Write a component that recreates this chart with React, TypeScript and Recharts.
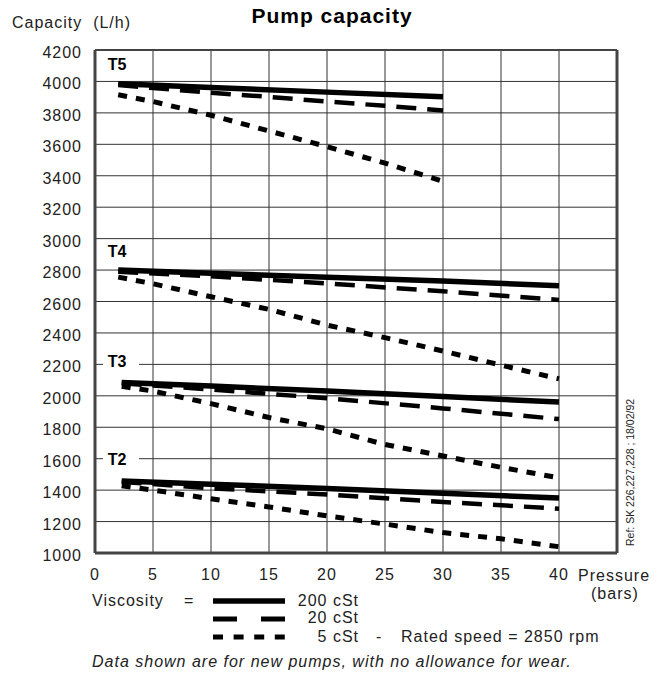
import React from "react";
import {
  LineChart,
  Line,
  XAxis,
  YAxis,
  CartesianGrid,
  ReferenceLine,
  ReferenceDot,
} from "recharts";

// pressure (bars) -> capacity (L/h)
const t5_200 = [
  { p: 2, v: 3985 },
  { p: 10, v: 3962 },
  { p: 20, v: 3932 },
  { p: 30, v: 3902 },
];
const t5_20 = [
  { p: 2, v: 3978 },
  { p: 5, v: 3958 },
  { p: 10, v: 3928 },
  { p: 15, v: 3902 },
  { p: 20, v: 3872 },
  { p: 25, v: 3845 },
  { p: 30, v: 3815 },
];
const t5_5 = [
  { p: 2, v: 3915 },
  { p: 5, v: 3872 },
  { p: 10, v: 3785 },
  { p: 15, v: 3685 },
  { p: 20, v: 3585 },
  { p: 25, v: 3480 },
  { p: 30, v: 3365 },
];

const t4_200 = [
  { p: 2, v: 2800 },
  { p: 10, v: 2780 },
  { p: 20, v: 2755 },
  { p: 30, v: 2730 },
  { p: 40, v: 2700 },
];
const t4_20 = [
  { p: 2, v: 2790 },
  { p: 10, v: 2760 },
  { p: 20, v: 2715 },
  { p: 30, v: 2665 },
  { p: 40, v: 2610 },
];
const t4_5 = [
  { p: 2, v: 2755 },
  { p: 5, v: 2713 },
  { p: 10, v: 2630 },
  { p: 15, v: 2550 },
  { p: 20, v: 2450 },
  { p: 25, v: 2370 },
  { p: 30, v: 2285 },
  { p: 35, v: 2195 },
  { p: 40, v: 2108 },
];

const t3_200 = [
  { p: 2.3, v: 2085 },
  { p: 10, v: 2062 },
  { p: 20, v: 2030 },
  { p: 30, v: 1995 },
  { p: 40, v: 1960 },
];
const t3_20 = [
  { p: 2.3, v: 2080 },
  { p: 10, v: 2040 },
  { p: 20, v: 1985 },
  { p: 30, v: 1920 },
  { p: 40, v: 1852 },
];
const t3_5 = [
  { p: 2.3, v: 2060 },
  { p: 5, v: 2030 },
  { p: 10, v: 1950 },
  { p: 15, v: 1862 },
  { p: 20, v: 1790 },
  { p: 25, v: 1690 },
  { p: 30, v: 1617 },
  { p: 35, v: 1545 },
  { p: 40, v: 1478 },
];

const t2_200 = [
  { p: 2.3, v: 1458 },
  { p: 10, v: 1438 },
  { p: 20, v: 1410 },
  { p: 30, v: 1380 },
  { p: 40, v: 1350 },
];
const t2_20 = [
  { p: 2.3, v: 1452 },
  { p: 10, v: 1412 },
  { p: 20, v: 1372 },
  { p: 30, v: 1325 },
  { p: 40, v: 1282 },
];
const t2_5 = [
  { p: 2.3, v: 1428 },
  { p: 5, v: 1400 },
  { p: 10, v: 1345 },
  { p: 15, v: 1293 },
  { p: 20, v: 1236 },
  { p: 25, v: 1184 },
  { p: 30, v: 1130 },
  { p: 35, v: 1090 },
  { p: 40, v: 1040 },
];

const pumpLabels = [
  { name: "T5", p: 1.9, v: 4110 },
  { name: "T4", p: 1.9, v: 2920 },
  { name: "T3", p: 1.9, v: 2220 },
  { name: "T2", p: 1.9, v: 1600 },
];

const xTicks = [0, 5, 10, 15, 20, 25, 30, 35, 40, 45];
const yTicks = [
  1000, 1200, 1400, 1600, 1800, 2000, 2200, 2400, 2600, 2800, 3000, 3200,
  3400, 3600, 3800, 4000, 4200,
];

const FONT = '"Liberation Sans", Arial, sans-serif';
const INK = "#222";

// line style per viscosity
const visc = {
  "200": { width: 5.5, dash: undefined as string | undefined },
  "20": { width: 4.5, dash: "20 11" },
  "5": { width: 5, dash: "9 9" },
};

const series = [
  { id: "t5_200", data: t5_200, k: "200" },
  { id: "t5_20", data: t5_20, k: "20" },
  { id: "t5_5", data: t5_5, k: "5" },
  { id: "t4_200", data: t4_200, k: "200" },
  { id: "t4_20", data: t4_20, k: "20" },
  { id: "t4_5", data: t4_5, k: "5" },
  { id: "t3_200", data: t3_200, k: "200" },
  { id: "t3_20", data: t3_20, k: "20" },
  { id: "t3_5", data: t3_5, k: "5" },
  { id: "t2_200", data: t2_200, k: "200" },
  { id: "t2_20", data: t2_20, k: "20" },
  { id: "t2_5", data: t2_5, k: "5" },
] as const;

const YTick = (props: any) => {
  const { x, y, payload } = props;
  return (
    <text
      x={x}
      y={y}
      dy={8}
      textAnchor="end"
      fontFamily={FONT}
      fontSize={16}
      letterSpacing={1}
      fill={INK}
    >
      {payload.value}
    </text>
  );
};

const XTick = (props: any) => {
  const { x, y, payload } = props;
  if (payload.value === 45) return <g />;
  return (
    <text
      x={x}
      y={y}
      dy={11}
      textAnchor="middle"
      fontFamily={FONT}
      fontSize={16}
      letterSpacing={1}
      fill={INK}
    >
      {payload.value}
    </text>
  );
};

const PumpTag = (name: string) => (props: any) => {
  const { cx, cy } = props;
  return (
    <g>
      <rect x={cx - 14} y={cy - 9} width={36} height={18} fill="#fff" />
      <text
        x={cx}
        y={cy}
        dy={6}
        textAnchor="middle"
        fontFamily={FONT}
        fontSize={16}
        fontWeight="bold"
        fill="#000"
      >
        {name}
      </text>
    </g>
  );
};

const txt = {
  fontFamily: FONT,
  fontSize: 16,
  letterSpacing: 1,
  fill: INK,
};

export default function App() {
  return (
    <div
      style={{
        position: "absolute",
        left: 0,
        top: 0,
        width: 667,
        height: 675,
        background: "#fff",
      }}
    >
      <LineChart
        width={667}
        height={675}
        margin={{ top: 50, right: 50, left: 35, bottom: 92 }}
      >
        <CartesianGrid stroke="#333" strokeWidth={1} />
        <XAxis
          type="number"
          dataKey="p"
          domain={[0, 45]}
          ticks={xTicks}
          interval={0}
          height={30}
          tickSize={0}
          tickMargin={16}
          tick={<XTick />}
          axisLine={{ stroke: "#444", strokeWidth: 3 }}
          allowDataOverflow
        />
        <YAxis
          type="number"
          dataKey="v"
          domain={[1000, 4200]}
          ticks={yTicks}
          interval={0}
          width={60}
          tickSize={0}
          tickMargin={13}
          tick={<YTick />}
          axisLine={{ stroke: "#444", strokeWidth: 3 }}
          allowDataOverflow
        />
        <ReferenceLine y={4200} stroke="#444" strokeWidth={2} />
        <ReferenceLine x={45} stroke="#444" strokeWidth={3} />
        {series.map((s) => (
          <Line
            key={s.id}
            data={s.data as any}
            dataKey="v"
            type="linear"
            stroke="#000"
            strokeWidth={visc[s.k].width}
            strokeDasharray={visc[s.k].dash}
            dot={false}
            activeDot={false}
            isAnimationActive={false}
          />
        ))}
        {pumpLabels.map((l) => (
          <ReferenceDot
            key={l.name}
            x={l.p}
            y={l.v}
            r={1}
            shape={PumpTag(l.name)}
          />
        ))}
      </LineChart>

      <svg
        width={667}
        height={675}
        style={{ position: "absolute", left: 0, top: 0, pointerEvents: "none" }}
      >
        <text
          x={332}
          y={23}
          textAnchor="middle"
          fontFamily={FONT}
          fontSize={21}
          fontWeight="bold"
          letterSpacing={1}
          fill="#000"
        >
          Pump capacity
        </text>
        <text x={12} y={28} {...txt} style={{ whiteSpace: "pre" }}>
          {"Capacity  (L/h)"}
        </text>

        <text x={578} y={581} {...txt}>
          Pressure
        </text>
        <text x={591} y={599} {...txt}>
          (bars)
        </text>

        <text
          transform="translate(634,546) rotate(-90)"
          fontFamily={FONT}
          fontSize={10.5}
          fill={INK}
        >
          Ref: SK 226,227,228 ; 18/02/92
        </text>

        {/* viscosity legend */}
        <text x={92} y={606} {...txt}>
          Viscosity
        </text>
        <text x={184} y={606} {...txt}>
          =
        </text>
        <line x1={213} x2={285} y1={601} y2={601} stroke="#000" strokeWidth={visc["200"].width} />
        <text x={359} y={606} textAnchor="end" {...txt}>
          200 cSt
        </text>
        <line
          x1={213}
          x2={285}
          y1={619}
          y2={619}
          stroke="#000"
          strokeWidth={visc["20"].width + 0.5}
          strokeDasharray="24 24"
        />
        <text x={359} y={623} textAnchor="end" {...txt}>
          20 cSt
        </text>
        <line
          x1={213}
          x2={285}
          y1={637}
          y2={637}
          stroke="#000"
          strokeWidth={visc["5"].width}
          strokeDasharray="10 10.6"
        />
        <text x={359} y={642} textAnchor="end" {...txt}>
          5 cSt
        </text>
        <text x={376} y={642} {...txt}>
          -
        </text>
        <text x={401} y={642} {...txt}>
          Rated speed = 2850 rpm
        </text>

        <text x={92} y={667} {...txt} fontStyle="italic">
          Data shown are for new pumps, with no allowance for wear.
        </text>
      </svg>
    </div>
  );
}
